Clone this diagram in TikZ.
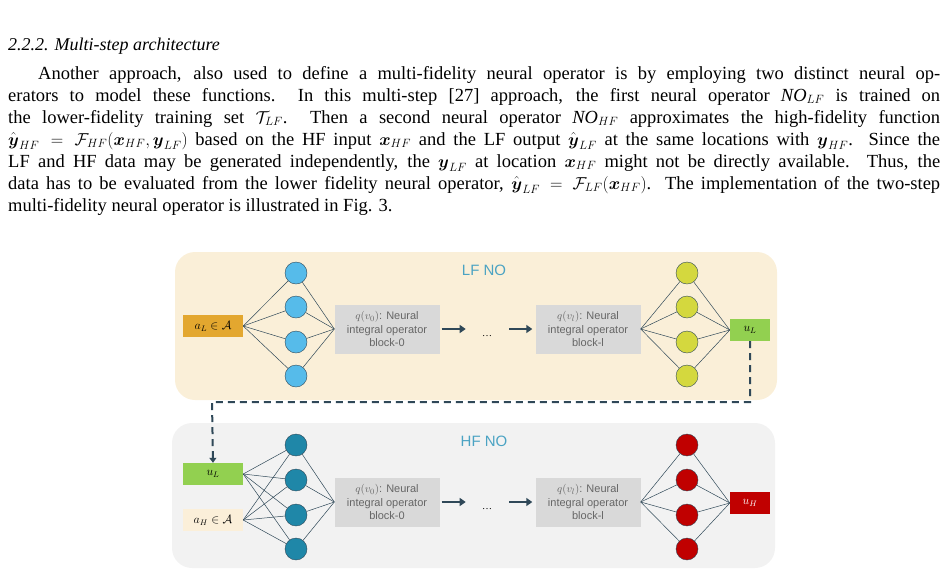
\documentclass[tikz,border=0pt]{standalone}
\usepackage{amsmath,amssymb}
\usepackage{fontspec}
\setmainfont{Liberation Serif}
\newfontfamily\diagsans{Liberation Sans}
\usetikzlibrary{arrows.meta}
\definecolor{lfbg}{HTML}{FAEFD8}
\definecolor{hfbg}{HTML}{F2F2F2}
\definecolor{titleblue}{HTML}{4BA3C3}
\definecolor{inorange}{HTML}{E3A72F}
\definecolor{inlight}{HTML}{FBEFD9}
\definecolor{ugreen}{HTML}{92D050}
\definecolor{ured}{HTML}{C00000}
\definecolor{cblue}{HTML}{56BBEA}
\definecolor{cteal}{HTML}{1F87A8}
\definecolor{cyellow}{HTML}{D4D83E}
\definecolor{blockgray}{HTML}{D9D9D9}
\definecolor{linedark}{HTML}{2F4858}
\begin{document}
\begin{tikzpicture}
      [ x=1pt, y=-1pt
      , neuron/.style={circle, draw=linedark, minimum size=22pt, inner sep=0pt}
      , block/.style={fill=blockgray, minimum width=105pt, minimum height=49pt, align=center, inner sep=1pt, text=black!60, font=\diagsans\fontsize{11}{13.5}\selectfont}
      , io/.style={minimum width=60pt, minimum height=22pt, inner sep=0pt, font=\fontsize{12}{14}\selectfont}
      , wire/.style={draw=linedark, line width=0.5pt}
      , flow/.style={draw=linedark, line width=2pt, -{Triangle[length=6pt,width=8pt]}}
      , panel/.style={rounded corners=20pt}
      , title/.style={text=titleblue, font=\diagsans\fontsize{15}{18}\selectfont}
      ]
    \useasboundingbox (0,0) rectangle (947,579);

    % page text
    \node[anchor=west, inner sep=0pt] (H) at (8,46) {\fontsize{18}{20}\selectfont\itshape 2.2.2. Multi-step architecture};
    \node[anchor=north west, inner sep=0pt] (P) at (8,66) {\parbox{932pt}{\fontsize{18.5}{22}\selectfont
    \hspace*{30pt}Another approach, also used to define a multi-fidelity neural operator is by employing two distinct neural op-\linebreak
    erators to model these functions.\ \ In this multi-step [27] approach, the first neural operator $\mathit{NO}_{LF}$ is trained on\linebreak
    the lower-fidelity training set $\mathcal{T}_{LF}$.\ \ Then a second neural operator $\mathit{NO}_{HF}$ approximates the high-fidelity function\linebreak
    $\hat{\boldsymbol{y}}_{HF}=\mathcal{F}_{HF}(\boldsymbol{x}_{HF},\boldsymbol{y}_{LF})$ based on the HF input $\boldsymbol{x}_{HF}$ and the LF output $\hat{\boldsymbol{y}}_{LF}$ at the same locations with $\boldsymbol{y}_{HF}$. Since the\linebreak
    LF and HF data may be generated independently, the $\boldsymbol{y}_{LF}$ at location $\boldsymbol{x}_{HF}$ might not be directly available. Thus, the\linebreak
    data has to be evaluated from the lower fidelity neural operator, $\hat{\boldsymbol{y}}_{LF}=\mathcal{F}_{LF}(\boldsymbol{x}_{HF})$. The implementation of the two-step\linebreak
    multi-fidelity neural operator is illustrated in Fig. 3.}};

    % panels
    \fill[lfbg, panel] (175,252) rectangle (777,400);
    \fill[hfbg, panel] (172,423) rectangle (775,568);
    \node[title] (LT) at (484,270) {LF NO};
    \node[title] (HT) at (484,441) {HF NO};

    % LF operator
    \node[io, fill=inorange] (AL) at (213,326) {$a_L\in\mathcal{A}$};
    \foreach \i/\y in {1/273,2/307,3/342,4/376} {
      \node[neuron, fill=cblue] (L\i) at (296,\y) {};
      \node[neuron, fill=cyellow] (LR\i) at (687,\y) {};
    }
    \node[block] (LB0) at (387,329) {$q(v_0)$: Neural\\integral operator\\block-0};
    \node (LD) at (487,336) {\dots};
    \node[block] (LBl) at (588,329) {$q(v_l)$: Neural\\integral operator\\block-l};
    \node[io, minimum width=40pt, fill=ugreen] (UL) at (750,330) {$u_L$};
    \foreach \i in {1,...,4} {
      \draw[wire] (AL.east) -- (L\i) -- (LB0.west);
      \draw[wire] (LBl.east) -- (LR\i) -- (UL.west);
    }
    \draw[flow] (LB0.east) ++(2,0) -- ++(24,0);
    \draw[flow] (LBl.west) ++(-26,0) -- ++(23,0);

    % HF operator
    \node[io, fill=ugreen] (UL2) at (213,474) {$u_L$};
    \node[io, fill=inlight] (AH) at (213,520) {$a_H\in\mathcal{A}$};
    \foreach \i/\y in {1/445,2/480,3/515,4/549} {
      \node[neuron, fill=cteal] (H\i) at (296,\y) {};
      \node[neuron, fill=ured] (HR\i) at (687,\y) {};
    }
    \node[block] (HB0) at (387,502) {$q(v_0)$: Neural\\integral operator\\block-0};
    \node (HD) at (487,509) {\dots};
    \node[block] (HBl) at (588,502) {$q(v_l)$: Neural\\integral operator\\block-l};
    \node[io, minimum width=40pt, fill=ured, text=white] (UH) at (750,503) {$u_H$};
    \foreach \i in {1,...,4} {
      \draw[wire] (UL2.east) -- (H\i) -- (HB0.west);
      \draw[wire] (AH.east) -- (H\i);
      \draw[wire] (HBl.east) -- (HR\i) -- (UH.west);
    }
    \draw[flow] (HB0.east) ++(2,0) -- ++(24,0);
    \draw[flow] (HBl.west) ++(-26,0) -- ++(23,0);

    % LF output feeds HF input
    \draw[draw=linedark, line width=2pt, dash pattern=on 7pt off 5pt, -{Triangle[length=5pt,width=7pt]}]
      (UL.south) |- (212,402) -- (UL2.north);
\end{tikzpicture}
\end{document}
